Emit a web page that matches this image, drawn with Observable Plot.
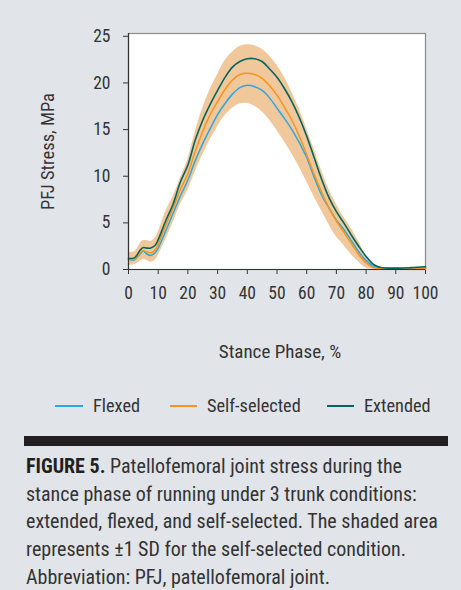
<!DOCTYPE html>
<html>
<head>
<meta charset="utf-8">
<script src="https://cdn.jsdelivr.net/npm/d3@7"></script>
<script src="https://cdn.jsdelivr.net/npm/@observablehq/plot@0.6"></script>
<style>
  html, body { margin: 0; padding: 0; }
  body { width: 461px; height: 590px; background: #e1e4e8; position: relative; overflow: hidden;
         font-family: "Roboto Condensed", "Liberation Sans Narrow", sans-serif; color: #333; }
  #chart { position: absolute; left: 0; top: 0; }
  .leg { position: absolute; top: 395px; font-size: 18.3px; line-height: 22px; color: #333; white-space: nowrap; }
  .sw { position: absolute; top: 405px; height: 1.5px; }
  #bar { position: absolute; left: 24px; top: 436px; width: 424px; height: 10px; background: #231f20; }
  #cap { position: absolute; left: 26px; top: 453px; width: 430px; font-size: 20px; line-height: 27.7px; color: #333; white-space: nowrap; }
  #cap b { color: #231f20; }
</style>
</head>
<body>
<div id="chart"></div>
<div class="sw" style="left:55px;width:28px;background:#2aa9e0"></div>
<div class="leg" style="left:93px">Flexed</div>
<div class="sw" style="left:170px;width:27px;background:#f7941d"></div>
<div class="leg" style="left:207px">Self-selected</div>
<div class="sw" style="left:327px;width:27px;background:#00665e"></div>
<div class="leg" style="left:364px">Extended</div>
<div id="bar"></div>
<div id="cap"><b>FIGURE 5.</b> Patellofemoral joint stress during the<br>stance phase of running under 3 trunk conditions:<br>extended, flexed, and self-selected. The shaded area<br>represents ±1 SD for the self-selected condition.<br>Abbreviation: PFJ, patellofemoral joint.</div>
<script>
const phase        = [0, 2, 4, 5, 6, 7.5, 9, 10, 12.5, 15, 17.5, 20, 22.5, 25, 27.5, 30, 32.5, 35, 37.5, 40, 42.5, 45, 47.5, 50, 52.5, 55, 57.5, 60, 62.5, 65, 67.5, 70, 72.5, 75, 77.5, 80, 82.5, 85, 90, 95, 100];
const flexed       = [1.1, 1.05, 1.7, 1.95, 1.7, 1.5, 1.8, 2.3, 4.1, 6.0, 7.9, 9.6, 11.7, 13.5, 15.1, 16.6, 17.8, 18.8, 19.5, 19.75, 19.6, 19.2, 18.4, 17.3, 16.2, 15.0, 13.6, 12.0, 9.9, 8.0, 6.6, 5.3, 4.3, 3.1, 1.9, 0.95, 0.35, 0.15, 0.12, 0.12, 0.15];
const selfSelected = [1.15, 1.1, 1.8, 2.0, 1.9, 1.8, 2.1, 2.7, 4.7, 6.6, 8.6, 10.3, 12.7, 14.8, 16.6, 18.0, 19.3, 20.3, 20.9, 21.05, 20.9, 20.5, 19.7, 18.7, 17.4, 16.0, 14.3, 12.3, 10.2, 8.3, 6.6, 5.2, 4.0, 2.8, 1.6, 0.7, 0.2, 0.08, 0.05, 0.05, 0.1];
const extended     = [1.2, 1.25, 2.1, 2.35, 2.3, 2.3, 2.6, 3.2, 5.2, 7.0, 9.4, 11.2, 13.9, 16.0, 17.7, 19.2, 20.6, 21.7, 22.3, 22.6, 22.6, 22.3, 21.5, 20.6, 19.4, 18.0, 16.3, 14.3, 12.0, 9.7, 7.7, 6.2, 5.0, 3.7, 2.5, 1.4, 0.55, 0.22, 0.15, 0.2, 0.3];
const sdUpper      = [1.85, 1.9, 2.8, 3.1, 3.1, 3.0, 3.4, 4.0, 6.2, 7.8, 9.8, 11.8, 14.8, 17.3, 19.3, 20.9, 22.4, 23.3, 23.9, 24.1, 24.0, 23.6, 22.9, 21.9, 20.6, 19.0, 17.2, 15.1, 12.9, 10.6, 8.6, 7.0, 5.6, 4.4, 3.0, 1.5, 0.6, 0.25, 0.1, 0.1, 0.15];
const sdLower      = [0.45, 0.5, 0.9, 1.1, 1.0, 0.8, 1.0, 1.5, 3.2, 5.0, 7.0, 8.5, 10.5, 12.3, 13.9, 15.3, 16.5, 17.3, 17.75, 17.8, 17.5, 16.9, 16.0, 14.9, 13.7, 12.4, 11.0, 9.4, 7.8, 6.3, 4.8, 3.5, 2.6, 1.6, 0.8, 0.15, 0, 0, 0, 0, 0];
const xTicks = [0, 10, 20, 30, 40, 50, 60, 70, 80, 90, 100];
const yTicks = [0, 5, 10, 15, 20, 25];
const xLabel = "Stance Phase, %";
const yLabel = "PFJ Stress, MPa";

const rows = phase.map((p, i) => ({
  phase: p, flexed: flexed[i], selfSelected: selfSelected[i], extended: extended[i],
  upper: sdUpper[i], lower: sdLower[i]
}));

const curve = "catmull-rom";
const chart = Plot.plot({
  width: 461,
  height: 372,
  marginLeft: 128,
  marginRight: 36,
  marginTop: 33,
  marginBottom: 103,
  style: { background: "transparent", fontFamily: "'Roboto Condensed', 'Liberation Sans Narrow', sans-serif", fontSize: "17.5px", color: "#333" },
  x: { domain: [0, 100], ticks: xTicks, tickSize: 5, tickPadding: 12, label: null },
  y: { domain: [0, 25.3], ticks: yTicks, tickSize: 5, tickPadding: 13, label: null },
  marks: [
    Plot.frame({ fill: "white", stroke: "#8a8a8a", strokeWidth: 1.2 }),
    Plot.areaY(rows, { x: "phase", y1: "lower", y2: "upper", fill: "#f1c79c", curve }),
    Plot.line(rows, { x: "phase", y: "flexed", stroke: "#2aa9e0", strokeWidth: 1.5, curve }),
    Plot.line(rows, { x: "phase", y: "selfSelected", stroke: "#f7941d", strokeWidth: 1.5, curve }),
    Plot.line(rows, { x: "phase", y: "extended", stroke: "#00665e", strokeWidth: 1.6, curve }),
    Plot.ruleX([0], { stroke: "#333", strokeWidth: 1.2 }),
    Plot.ruleY([0], { stroke: "#333", strokeWidth: 1.2 }),
    Plot.text([xLabel], { frameAnchor: "bottom", textAnchor: "middle", lineAnchor: "middle", dx: 3, dy: 82, fontSize: 19, fill: "#333" }),
    Plot.text([yLabel], { frameAnchor: "left", textAnchor: "middle", lineAnchor: "middle", dx: -80, rotate: -90, fontSize: 18.5, fill: "#333" })
  ]
});
document.getElementById("chart").appendChild(chart);
</script>
</body>
</html>
